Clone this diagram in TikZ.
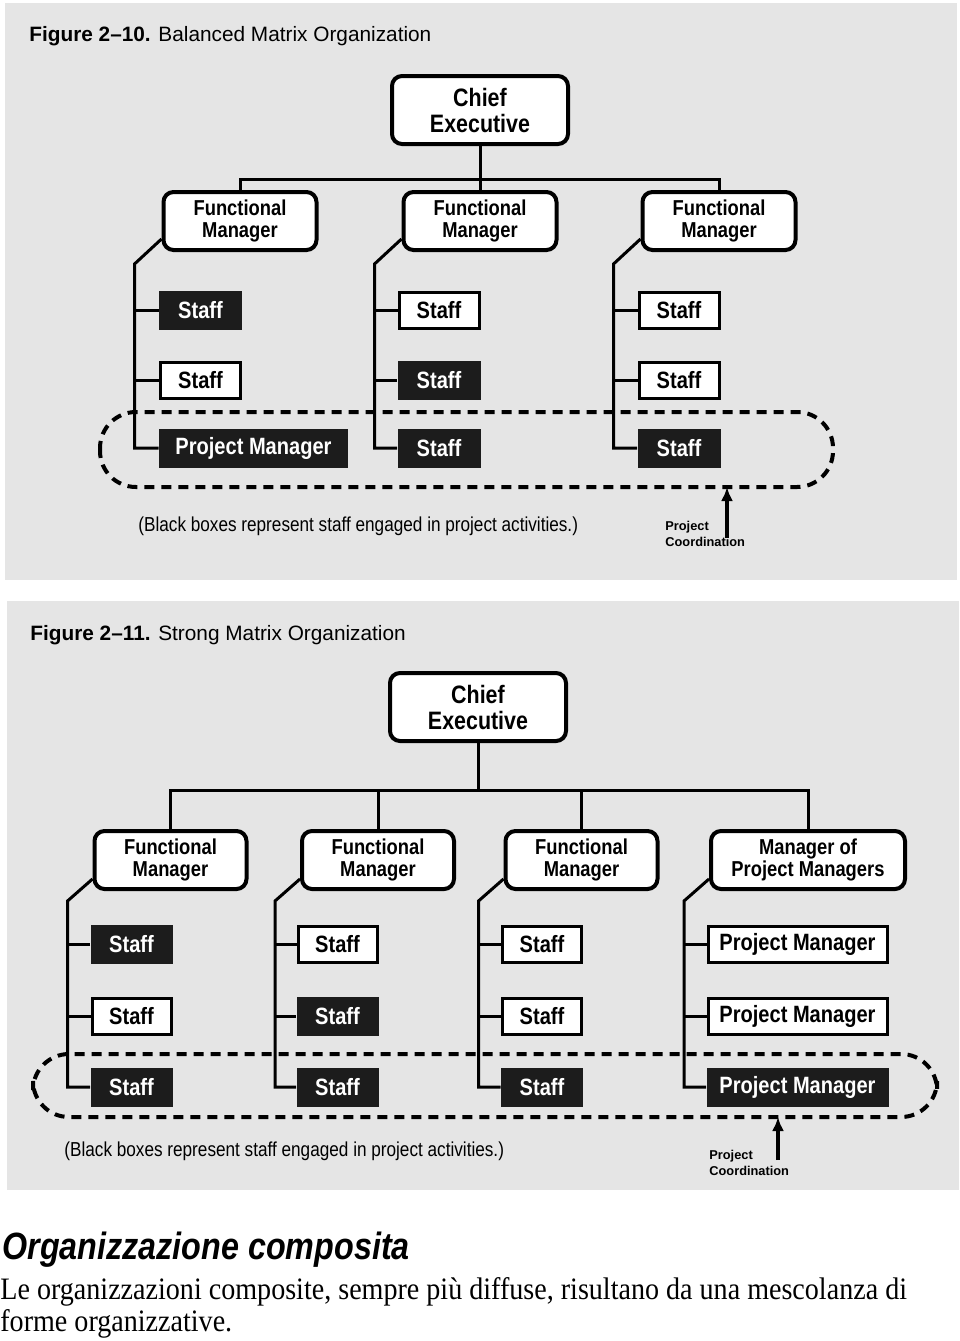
\documentclass[tikz,border=0pt]{standalone}
\usepackage{fontspec}
\setmainfont{Liberation Serif}
\setsansfont{Liberation Sans}
\newfontfamily\condsans[FakeStretch=0.85]{Liberation Sans}
\newfontfamily\condserif[FakeStretch=0.9]{Liberation Serif}
\usetikzlibrary{arrows.meta}
\definecolor{panelgray}{RGB}{229,229,229}
\definecolor{boxblack}{RGB}{28,28,28}
\newcommand{\cefont}{\condsans\bfseries\fontsize{12.6}{13}\selectfont}
\newcommand{\mgrfont}{\condsans\bfseries\fontsize{10.8}{11.2}\selectfont}
\newcommand{\stafffont}{\condsans\bfseries\fontsize{11.8}{12}\selectfont}

\begin{document}
\begin{tikzpicture}[x=0.5pt,y=-0.5pt,
  mgr/.style={draw, line width=2pt, rounded corners=5pt, fill=white, inner sep=0pt,
    align=center, minimum height=29pt, font=\mgrfont},
  chief/.style={mgr, minimum width=88pt, minimum height=34pt, font=\cefont},
  blk/.style={fill=boxblack, text=white, inner sep=0pt, minimum height=19.5pt, font=\stafffont},
  wht/.style={draw, line width=1.5pt, fill=white, inner sep=0pt, minimum height=18pt, font=\stafffont},
  conn/.style={line width=1.5pt},
  coordloop/.style={line width=2pt, dash pattern=on 5pt off 3.5pt, rounded corners=18pt},
  arr/.style={line width=1.8pt, -{Latex[length=7pt,width=6pt]}},
  note/.style={anchor=base west, inner sep=0pt, font=\condsans\fontsize{10.1}{11}\selectfont},
  ttl/.style={anchor=base west, inner sep=0pt, font=\sffamily\fontsize{10.4}{12}\selectfont},
  pc/.style={anchor=north west, inner sep=0pt, align=left, font=\sffamily\bfseries\fontsize{6.4}{7.8}\selectfont}]
\useasboundingbox (0,0) rectangle (960,1341);
\fill[panelgray] (5,3) rectangle (957,580);
\fill[panelgray] (7,601) rectangle (959,1190);

% Balanced matrix
\node[ttl] (t1) at (29,41) {\textbf{Figure 2--10.} Balanced Matrix Organization};
\node[chief] (ce1) at (480,110) {Chief\\Executive};
\node[mgr, minimum width=76.5pt] (fa1) at (240,221) {Functional\\Manager};
\node[mgr, minimum width=76.5pt] (fb1) at (480,221) {Functional\\Manager};
\node[mgr, minimum width=76.5pt] (fc1) at (719,221) {Functional\\Manager};
\node[blk, minimum width=41.5pt] (sa1) at (200.5,310) {Staff};
\node[wht, minimum width=40pt] (sa2) at (200.5,380) {Staff};
\node[blk, minimum width=94.5pt] (sa3) at (253.5,448) {Project Manager};
\node[wht, minimum width=40pt] (sb1) at (439,310) {Staff};
\node[blk, minimum width=41.5pt] (sb2) at (439,380) {Staff};
\node[blk, minimum width=41.5pt] (sb3) at (439,448) {Staff};
\node[wht, minimum width=40pt] (sc1) at (679,310) {Staff};
\node[wht, minimum width=40pt] (sc2) at (679,380) {Staff};
\node[blk, minimum width=41.5pt] (sc3) at (679,448) {Staff};

\draw[conn] (ce1.south) -- (fb1.north);
\draw[conn] (fa1.north) |- (480,179) -| (fc1.north);
\foreach \c in {a,b,c}{
  \draw[conn] (f\c1.south west) ++(0,-13) -- ++(-27,25) coordinate (k\c1) |- (s\c3.west);
  \draw[conn] (s\c1.west) -- (s\c1.west -| k\c1);
  \draw[conn] (s\c2.west) -- (s\c2.west -| k\c1);
}
\draw[coordloop] (100,412) rectangle (833,487);
\coordinate (loop1) at (727,487);
\coordinate (tail1) at (727,538);
\draw[arr] (tail1) -- (loop1);
\node[pc] (pc1) at (665,521) {Project\\Coordination};
\node[note] (n1) at (138,531) {(Black boxes represent staff engaged in project activities.)};

% Strong matrix
\node[ttl] (t2) at (30,640) {\textbf{Figure 2--11.} Strong Matrix Organization};
\node[chief] (ce2) at (478,707) {Chief\\Executive};
\node[mgr, minimum width=76pt] (fa2) at (170.5,860) {Functional\\Manager};
\node[mgr, minimum width=76pt] (fb2) at (378,860) {Functional\\Manager};
\node[mgr, minimum width=76pt] (fc2) at (581.5,860) {Functional\\Manager};
\node[mgr, minimum width=97pt] (fd2) at (808,860) {Manager of\\Project Managers};
\node[blk, minimum width=41pt] (sa1b) at (131.5,944) {Staff};
\node[wht, minimum width=39.5pt] (sa2b) at (131.5,1016) {Staff};
\node[blk, minimum width=41pt] (sa3b) at (131.5,1087) {Staff};
\node[wht, minimum width=39.5pt] (sb1b) at (337.5,944) {Staff};
\node[blk, minimum width=41pt] (sb2b) at (337.5,1016) {Staff};
\node[blk, minimum width=41pt] (sb3b) at (337.5,1087) {Staff};
\node[wht, minimum width=39.5pt] (sc1b) at (542,944) {Staff};
\node[wht, minimum width=39.5pt] (sc2b) at (542,1016) {Staff};
\node[blk, minimum width=41pt] (sc3b) at (542,1087) {Staff};
\node[wht, minimum width=89.5pt] (sd1b) at (797.5,944) {Project Manager};
\node[wht, minimum width=89.5pt] (sd2b) at (797.5,1016) {Project Manager};
\node[blk, minimum width=91pt] (sd3b) at (797.5,1087) {Project Manager};

\draw[conn] (ce2.south) -- (478,790);
\draw[conn] (fa2.north) |- (478,790) -| (fd2.north);
\draw[conn] (fb2.north) -- (fb2.north |- 478,790);
\draw[conn] (fc2.north) -- (fc2.north |- 478,790);
\foreach \c in {a,b,c,d}{
  \draw[conn] (f\c2.south west) ++(0,-12) -- ++(-25,22) coordinate (k\c2) |- (s\c3b.west);
  \draw[conn] (s\c1b.west) -- (s\c1b.west -| k\c2);
  \draw[conn] (s\c2b.west) -- (s\c2b.west -| k\c2);
}
\draw[coordloop] (33,1054) rectangle (937,1117);
\coordinate (loop2) at (778,1117);
\coordinate (tail2) at (778,1160);
\draw[arr] (tail2) -- (loop2);
\node[pc] (pc2) at (709,1150) {Project\\Coordination};
\node[note] (n2) at (64,1156) {(Black boxes represent staff engaged in project activities.)};

% text below
\node[anchor=base west, inner sep=0pt, font=\condsans\bfseries\itshape\fontsize{19}{22}\selectfont] (h) at (2,1259) {Organizzazione composita};
\node[anchor=base west, inner sep=0pt, font=\condserif\fontsize{15.6}{16}\selectfont] (p1) at (0,1299) {Le organizzazioni composite, sempre più diffuse, risultano da una mescolanza di};
\node[anchor=base west, inner sep=0pt, font=\condserif\fontsize{15.6}{16}\selectfont] (p2) at (0,1331) {forme organizzative.};
\end{tikzpicture}
\end{document}
